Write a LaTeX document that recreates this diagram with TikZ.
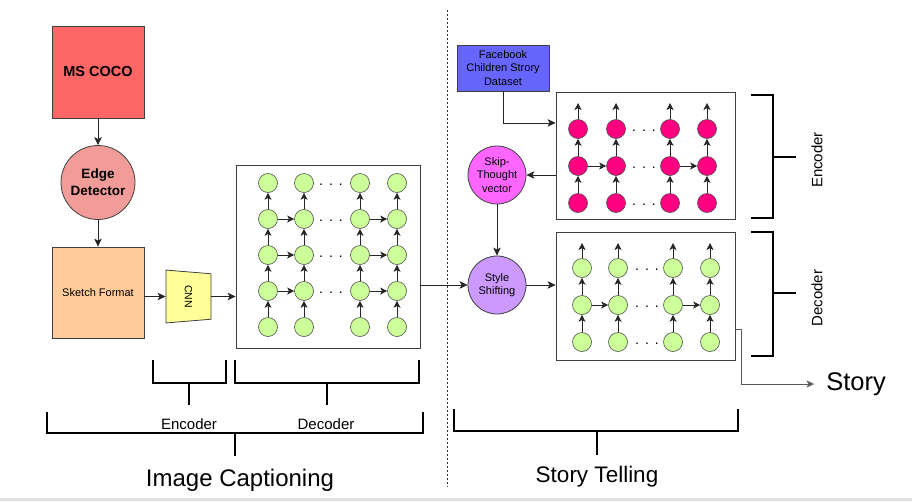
\documentclass[tikz,border=0pt]{standalone}
\usepackage{fontspec}
\setmainfont{Liberation Sans}
\usetikzlibrary{arrows.meta,shapes.geometric,calc}
\definecolor{cocofill}{HTML}{FF6666}
\definecolor{edgefill}{HTML}{F19C99}
\definecolor{sketchfill}{HTML}{FFCC99}
\definecolor{cnnfill}{HTML}{FFFF99}
\definecolor{gfill}{HTML}{CCFF99}
\definecolor{pfill}{HTML}{FF0080}
\definecolor{skipfill}{HTML}{FF66FF}
\definecolor{fbfill}{HTML}{6666FF}
\definecolor{stylefill}{HTML}{CC99FF}
\begin{document}
\begin{tikzpicture}[x=1pt,y=-1pt,
  box/.style={draw=black!75,line width=0.8pt,inner sep=0pt},
  arr/.style={-{Stealth[length=8pt,width=7.5pt,inset=2pt]},line width=0.8pt,draw=black!85},
  garr/.style={-{Stealth[length=7pt,width=7pt,inset=1.8pt]},line width=0.75pt,draw=black!85},
  gn/.style={circle,draw=black!70,line width=0.6pt,fill=gfill,minimum size=19pt,inner sep=0pt},
  pn/.style={gn,fill=pfill},
  brk/.style={line width=1.8pt,draw=black},
  dots/.style={inner sep=0pt,font=\fontsize{14}{14}\selectfont},
  small/.style={align=center,font=\fontsize{11}{13.5}\selectfont},
  lbl/.style={font=\fontsize{15}{15}\selectfont,inner sep=0pt},
]
\useasboundingbox (0,0) rectangle (912,501);
\fill[white] (0,0) rectangle (912,501);
\fill[black!12] (0,497.5) rectangle (912,501);

% ---------- Image captioning side ----------
\node[box,fill=cocofill,minimum width=92pt,minimum height=92pt,
      font=\bfseries\fontsize{14.5}{14.5}\selectfont] (coco) at (98,72) {MS COCO};
\node[box,circle,fill=edgefill,minimum size=74pt,align=center,
      font=\bfseries\fontsize{13.5}{17}\selectfont] (edge) at (98,182.5) {Edge\\Detector};
\node[box,fill=sketchfill,minimum width=92pt,minimum height=91pt,
      font=\fontsize{11}{13}\selectfont] (sketch) at (98,292.5) {Sketch Format};
\node[box,fill=cnnfill,trapezium,rotate=-90,trapezium stretches=true,
      minimum width=53pt,minimum height=45pt,trapezium left angle=76,
      trapezium right angle=76,font=\fontsize{10.5}{10.5}\selectfont] (cnn) at (188.5,296.5) {CNN};

\draw[arr] (coco.south) -- (edge.north);
\draw[arr] (edge.south) -- (sketch.north);
\draw[arr] (sketch.east |- cnn.center) -- (cnn.south);

\node[box,draw=black!75,minimum width=184pt,minimum height=183pt] (icbox) at (328,256.5) {};
\draw[arr] (cnn.north) -- (icbox.west |- cnn.north);

\foreach \x [count=\c] in {268,304,360,397}{
  \foreach \y [count=\r] in {183,219,255,291,327}{
    \node[gn] (ic\c-\r) at (\x,\y) {};
  }
}
\foreach \c in {1,...,4}{
  \foreach \r/\s in {2/1,3/2,4/3,5/4}{
    \draw[garr] (ic\c-\r) -- (ic\c-\s);
  }
}
\foreach \r in {2,3,4}{
  \draw[garr] (ic1-\r) -- (ic2-\r);
  \draw[garr] (ic3-\r) -- (ic4-\r);
}
\foreach \y [count=\r] in {183,219,255,291}{
  \node[dots] (icd\r) at (331,\y+2) {.\hspace{6pt}.\hspace{6pt}.};
}

% ---------- divider ----------
\draw[dash pattern=on 2pt off 2pt,line width=0.8pt,black!80] (447,10) -- (447,487);

% ---------- Story telling side ----------
\node[box,fill=fbfill,minimum width=92pt,minimum height=46pt,small] (fb) at (503,68) {Facebook\\Children Strory\\Dataset};
\node[box,circle,fill=skipfill,minimum size=58pt,small] (skip) at (497,175) {Skip-\\Thought\\vector};
\node[box,circle,fill=stylefill,minimum size=58pt,small] (style) at (497,285) {Style\\Shifting};

\node[box,minimum width=179pt,minimum height=127pt] (sebox) at (645.5,155.5) {};
\node[box,minimum width=179pt,minimum height=128pt] (sdbox) at (645.5,296) {};

\foreach \x [count=\c] in {578,616,670,707}{
  \foreach \y [count=\r] in {129,166,203}{
    \node[pn] (se\c-\r) at (\x,\y) {};
  }
  \coordinate (set\c) at (\x,103);
}
\foreach \x [count=\c] in {582,618,673,710}{
  \foreach \y [count=\r] in {268,305,342}{
    \node[gn] (sd\c-\r) at (\x,\y) {};
  }
  \coordinate (sdt\c) at (\x,243);
}
\foreach \c in {1,...,4}{
  \draw[garr] (se\c-3) -- (se\c-2);
  \draw[garr] (se\c-2) -- (se\c-1);
  \draw[garr] (se\c-1) -- (set\c);
  \draw[garr] (sd\c-3) -- (sd\c-2);
  \draw[garr] (sd\c-2) -- (sd\c-1);
  \draw[garr] (sd\c-1) -- (sdt\c);
}
\draw[garr] (se1-2) -- (se2-2);
\draw[garr] (se3-2) -- (se4-2);
\draw[garr] (sd1-2) -- (sd2-2);
\draw[garr] (sd3-2) -- (sd4-2);
\foreach \y [count=\r] in {129,166,203}{
  \node[dots] (sed\r) at (644,\y+2) {.\hspace{6pt}.\hspace{6pt}.};
}
\foreach \y [count=\r] in {268,305,342}{
  \node[dots] (sdd\r) at (647,\y+2) {.\hspace{6pt}.\hspace{6pt}.};
}

\draw[arr] (fb.south) |- ($(sebox.north west)!0.245!(sebox.south west)$);
\draw[arr] (sebox.west |- skip.east) -- (skip.east);
\draw[arr] (skip.south) -- (style.north);
\draw[arr] (icbox.east |- style.west) -- (style.west);
\draw[arr] (style.east) -- (sdbox.west |- style.east);

\node[font=\fontsize{25.5}{25.5}\selectfont,inner sep=0pt,anchor=base] (story) at (856,390) {Story};
\draw[-{Stealth[length=7.5pt,width=7pt,inset=2pt]},line width=0.8pt,draw=black!65]
  ($(sdbox.north east)!0.76!(sdbox.south east)$) -- ++(6,0) |- ([xshift=-12pt,yshift=6pt]story.base west);

% ---------- brackets ----------
\draw[brk] (153,360) -- (153,383) -- (226,383) -- (226,360);
\draw[brk] (189,383) -- (189,405);
\draw[brk] (235,360) -- (235,383) -- (419,383) -- (419,360);
\draw[brk] (327,383) -- (327,405);
\draw[brk] (47,412) -- (47,433) -- (423,433) -- (423,412);
\draw[brk] (235,433) -- (235,456);
\draw[brk] (454,409) -- (454,431) -- (738,431) -- (738,409);
\draw[brk] (597,431) -- (597,455);
\draw[brk] (751,95) -- (773,95) -- (773,218) -- (751,218);
\draw[brk] (773,157) -- (796,157);
\draw[brk] (751,232) -- (773,232) -- (773,356) -- (751,356);
\draw[brk] (773,293) -- (796,293);

\node[lbl,anchor=base] (encl) at (189,429) {Encoder};
\node[lbl,anchor=base] (decl) at (326,429) {Decoder};
\node[font=\fontsize{24}{24}\selectfont,inner sep=0pt,anchor=base] (icl) at (240,486) {Image Captioning};
\node[font=\fontsize{22.5}{22.5}\selectfont,inner sep=0pt,anchor=base] (stl) at (597,482) {Story Telling};
\node[lbl,rotate=90] (encr) at (817,160) {Encoder};
\node[lbl,rotate=90] (decr) at (817,298) {Decoder};
\end{tikzpicture}
\end{document}
